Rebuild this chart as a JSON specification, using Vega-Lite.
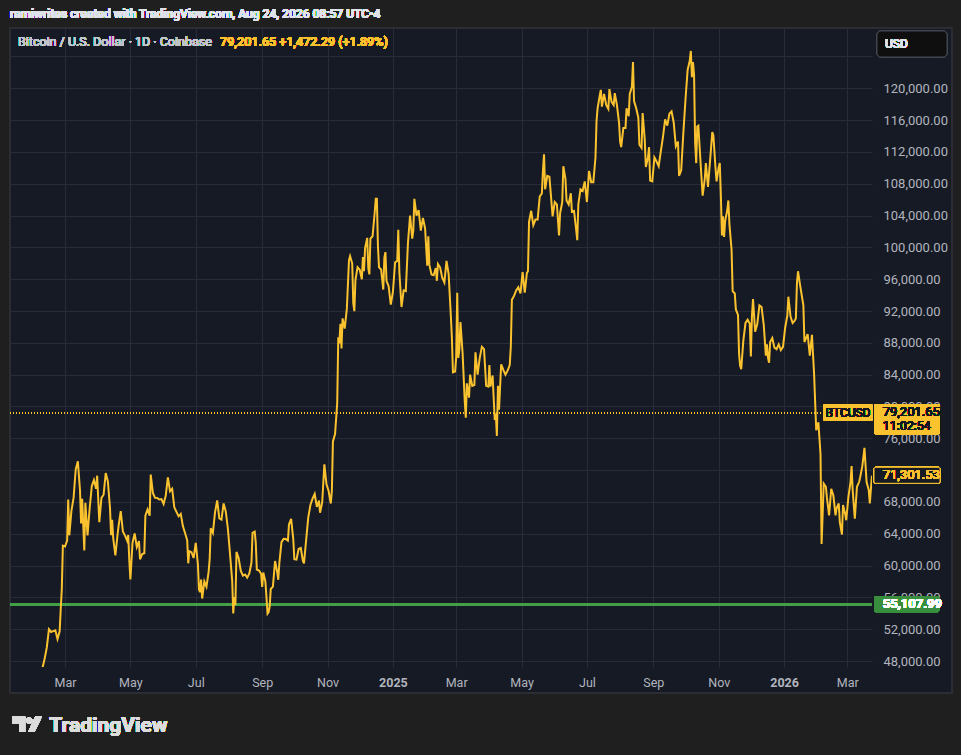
{
  "$schema": "https://vega.github.io/schema/vega-lite/v6.json",
  "width": 862,
  "height": 639,
  "autosize": {"type": "none"},
  "padding": {"left": 10, "top": 28, "right": 89, "bottom": 88},
  "background": "#161a25",
  "data": {
    "values": [
      {"date": "2024-02-09", "close": 47150}, {"date": "2024-02-11", "close": 48300}, {"date": "2024-02-13", "close": 49700},
      {"date": "2024-02-15", "close": 52000}, {"date": "2024-02-17", "close": 51650}, {"date": "2024-02-19", "close": 51750},
      {"date": "2024-02-21", "close": 51850}, {"date": "2024-02-23", "close": 50750}, {"date": "2024-02-25", "close": 51730},
      {"date": "2024-02-26", "close": 54500}, {"date": "2024-02-27", "close": 57050}, {"date": "2024-02-28", "close": 62500},
      {"date": "2024-03-01", "close": 62400}, {"date": "2024-03-03", "close": 63150}, {"date": "2024-03-04", "close": 68300},
      {"date": "2024-03-05", "close": 63800}, {"date": "2024-03-07", "close": 66900}, {"date": "2024-03-09", "close": 68500},
      {"date": "2024-03-11", "close": 72100}, {"date": "2024-03-13", "close": 73100}, {"date": "2024-03-15", "close": 69400},
      {"date": "2024-03-16", "close": 65300}, {"date": "2024-03-17", "close": 68400}, {"date": "2024-03-19", "close": 61900},
      {"date": "2024-03-20", "close": 67900}, {"date": "2024-03-22", "close": 63800}, {"date": "2024-03-24", "close": 67200},
      {"date": "2024-03-26", "close": 69990}, {"date": "2024-03-28", "close": 70750}, {"date": "2024-03-30", "close": 69650},
      {"date": "2024-03-31", "close": 71300}, {"date": "2024-04-02", "close": 65450}, {"date": "2024-04-04", "close": 68500},
      {"date": "2024-04-06", "close": 68900}, {"date": "2024-04-08", "close": 71620}, {"date": "2024-04-10", "close": 70590},
      {"date": "2024-04-12", "close": 67190}, {"date": "2024-04-13", "close": 63820}, {"date": "2024-04-14", "close": 65740},
      {"date": "2024-04-15", "close": 63420}, {"date": "2024-04-17", "close": 61280}, {"date": "2024-04-19", "close": 63840},
      {"date": "2024-04-20", "close": 64990}, {"date": "2024-04-22", "close": 66840}, {"date": "2024-04-24", "close": 64290},
      {"date": "2024-04-26", "close": 63760}, {"date": "2024-04-28", "close": 63120}, {"date": "2024-04-29", "close": 63840},
      {"date": "2024-04-30", "close": 60640}, {"date": "2024-05-01", "close": 58250}, {"date": "2024-05-03", "close": 62890},
      {"date": "2024-05-05", "close": 64030}, {"date": "2024-05-07", "close": 62330}, {"date": "2024-05-09", "close": 63070},
      {"date": "2024-05-10", "close": 60790}, {"date": "2024-05-12", "close": 61450}, {"date": "2024-05-14", "close": 61550},
      {"date": "2024-05-15", "close": 66270}, {"date": "2024-05-17", "close": 67050}, {"date": "2024-05-19", "close": 66280},
      {"date": "2024-05-20", "close": 71440}, {"date": "2024-05-22", "close": 69120}, {"date": "2024-05-24", "close": 68520},
      {"date": "2024-05-26", "close": 68510}, {"date": "2024-05-28", "close": 68300}, {"date": "2024-05-30", "close": 68350},
      {"date": "2024-06-01", "close": 67740}, {"date": "2024-06-03", "close": 68800}, {"date": "2024-06-05", "close": 71080},
      {"date": "2024-06-07", "close": 69340}, {"date": "2024-06-09", "close": 69650}, {"date": "2024-06-11", "close": 67320},
      {"date": "2024-06-13", "close": 66750}, {"date": "2024-06-15", "close": 66190}, {"date": "2024-06-17", "close": 66490},
      {"date": "2024-06-19", "close": 64960}, {"date": "2024-06-21", "close": 64100}, {"date": "2024-06-23", "close": 63200},
      {"date": "2024-06-24", "close": 60280}, {"date": "2024-06-25", "close": 61800}, {"date": "2024-06-27", "close": 61680},
      {"date": "2024-06-29", "close": 60950}, {"date": "2024-07-01", "close": 62850}, {"date": "2024-07-03", "close": 60200},
      {"date": "2024-07-04", "close": 57020}, {"date": "2024-07-05", "close": 56660}, {"date": "2024-07-06", "close": 58230},
      {"date": "2024-07-07", "close": 55850}, {"date": "2024-07-09", "close": 58000}, {"date": "2024-07-11", "close": 57340},
      {"date": "2024-07-13", "close": 59200}, {"date": "2024-07-14", "close": 60800}, {"date": "2024-07-15", "close": 64700},
      {"date": "2024-07-17", "close": 64100}, {"date": "2024-07-19", "close": 66700}, {"date": "2024-07-21", "close": 68180},
      {"date": "2024-07-23", "close": 65930}, {"date": "2024-07-25", "close": 65780}, {"date": "2024-07-27", "close": 67810},
      {"date": "2024-07-29", "close": 66800}, {"date": "2024-07-31", "close": 64610}, {"date": "2024-08-02", "close": 61420},
      {"date": "2024-08-04", "close": 58110}, {"date": "2024-08-05", "close": 53990}, {"date": "2024-08-06", "close": 56040},
      {"date": "2024-08-07", "close": 55030}, {"date": "2024-08-08", "close": 61710}, {"date": "2024-08-10", "close": 60940},
      {"date": "2024-08-12", "close": 59350}, {"date": "2024-08-14", "close": 58740}, {"date": "2024-08-16", "close": 58870},
      {"date": "2024-08-18", "close": 58480}, {"date": "2024-08-20", "close": 59010}, {"date": "2024-08-22", "close": 60380},
      {"date": "2024-08-23", "close": 64100}, {"date": "2024-08-25", "close": 64260}, {"date": "2024-08-26", "close": 62880},
      {"date": "2024-08-27", "close": 59500}, {"date": "2024-08-29", "close": 59380}, {"date": "2024-08-31", "close": 58970},
      {"date": "2024-09-01", "close": 57320}, {"date": "2024-09-02", "close": 59130}, {"date": "2024-09-04", "close": 57970},
      {"date": "2024-09-06", "close": 53960}, {"date": "2024-09-07", "close": 54160}, {"date": "2024-09-08", "close": 54870},
      {"date": "2024-09-09", "close": 57050}, {"date": "2024-09-11", "close": 57350}, {"date": "2024-09-13", "close": 60570},
      {"date": "2024-09-15", "close": 59190}, {"date": "2024-09-16", "close": 58210}, {"date": "2024-09-17", "close": 60310},
      {"date": "2024-09-19", "close": 62950}, {"date": "2024-09-21", "close": 63350}, {"date": "2024-09-23", "close": 63330},
      {"date": "2024-09-25", "close": 63140}, {"date": "2024-09-26", "close": 65180}, {"date": "2024-09-28", "close": 65880},
      {"date": "2024-09-30", "close": 63330}, {"date": "2024-10-01", "close": 60800}, {"date": "2024-10-03", "close": 60750},
      {"date": "2024-10-05", "close": 62090}, {"date": "2024-10-07", "close": 62220}, {"date": "2024-10-09", "close": 60580},
      {"date": "2024-10-10", "close": 60270}, {"date": "2024-10-12", "close": 63190}, {"date": "2024-10-14", "close": 66050},
      {"date": "2024-10-16", "close": 67610}, {"date": "2024-10-18", "close": 68410}, {"date": "2024-10-20", "close": 69000},
      {"date": "2024-10-22", "close": 67380}, {"date": "2024-10-24", "close": 68170}, {"date": "2024-10-25", "close": 66640},
      {"date": "2024-10-27", "close": 67930}, {"date": "2024-10-29", "close": 72720}, {"date": "2024-10-31", "close": 70220},
      {"date": "2024-11-02", "close": 69370}, {"date": "2024-11-04", "close": 67800}, {"date": "2024-11-05", "close": 69370},
      {"date": "2024-11-06", "close": 75600}, {"date": "2024-11-08", "close": 76530}, {"date": "2024-11-10", "close": 80420},
      {"date": "2024-11-11", "close": 88700}, {"date": "2024-11-12", "close": 87950}, {"date": "2024-11-13", "close": 90400},
      {"date": "2024-11-14", "close": 87300}, {"date": "2024-11-15", "close": 91080}, {"date": "2024-11-17", "close": 89800},
      {"date": "2024-11-19", "close": 92300}, {"date": "2024-11-21", "close": 98400}, {"date": "2024-11-22", "close": 98900},
      {"date": "2024-11-24", "close": 98000}, {"date": "2024-11-25", "close": 93000}, {"date": "2024-11-26", "close": 91980},
      {"date": "2024-11-27", "close": 95900}, {"date": "2024-11-29", "close": 97500}, {"date": "2024-12-01", "close": 97200},
      {"date": "2024-12-03", "close": 96000}, {"date": "2024-12-04", "close": 98800}, {"date": "2024-12-05", "close": 97000},
      {"date": "2024-12-06", "close": 99900}, {"date": "2024-12-08", "close": 101200}, {"date": "2024-12-09", "close": 97400},
      {"date": "2024-12-10", "close": 96600}, {"date": "2024-12-11", "close": 101100}, {"date": "2024-12-13", "close": 101400},
      {"date": "2024-12-15", "close": 104400}, {"date": "2024-12-16", "close": 106100}, {"date": "2024-12-17", "close": 106100},
      {"date": "2024-12-18", "close": 100200}, {"date": "2024-12-19", "close": 97500}, {"date": "2024-12-21", "close": 97200},
      {"date": "2024-12-23", "close": 94700}, {"date": "2024-12-24", "close": 98700}, {"date": "2024-12-25", "close": 99400},
      {"date": "2024-12-26", "close": 95800}, {"date": "2024-12-28", "close": 95100}, {"date": "2024-12-30", "close": 92800},
      {"date": "2025-01-01", "close": 94400}, {"date": "2025-01-03", "close": 98100}, {"date": "2025-01-05", "close": 98300},
      {"date": "2025-01-06", "close": 102200}, {"date": "2025-01-07", "close": 96900}, {"date": "2025-01-09", "close": 92500},
      {"date": "2025-01-11", "close": 94600}, {"date": "2025-01-13", "close": 94500}, {"date": "2025-01-15", "close": 100500},
      {"date": "2025-01-17", "close": 104000}, {"date": "2025-01-19", "close": 101100}, {"date": "2025-01-20", "close": 102100},
      {"date": "2025-01-21", "close": 106100}, {"date": "2025-01-23", "close": 104000}, {"date": "2025-01-25", "close": 104700},
      {"date": "2025-01-27", "close": 102100}, {"date": "2025-01-29", "close": 103700}, {"date": "2025-01-31", "close": 102400},
      {"date": "2025-02-02", "close": 97700}, {"date": "2025-02-03", "close": 101400}, {"date": "2025-02-04", "close": 97800},
      {"date": "2025-02-06", "close": 96600}, {"date": "2025-02-08", "close": 96500}, {"date": "2025-02-10", "close": 97400},
      {"date": "2025-02-11", "close": 95800}, {"date": "2025-02-12", "close": 97900}, {"date": "2025-02-14", "close": 97500},
      {"date": "2025-02-16", "close": 96200}, {"date": "2025-02-18", "close": 95600}, {"date": "2025-02-20", "close": 98300},
      {"date": "2025-02-22", "close": 96600}, {"date": "2025-02-24", "close": 91500}, {"date": "2025-02-25", "close": 88700},
      {"date": "2025-02-26", "close": 84300}, {"date": "2025-02-28", "close": 84400}, {"date": "2025-03-01", "close": 86100},
      {"date": "2025-03-02", "close": 94300}, {"date": "2025-03-03", "close": 86100}, {"date": "2025-03-04", "close": 87200},
      {"date": "2025-03-05", "close": 90600}, {"date": "2025-03-07", "close": 86700}, {"date": "2025-03-09", "close": 80700},
      {"date": "2025-03-10", "close": 78600}, {"date": "2025-03-11", "close": 82900}, {"date": "2025-03-13", "close": 81100},
      {"date": "2025-03-14", "close": 84000}, {"date": "2025-03-16", "close": 82600}, {"date": "2025-03-18", "close": 82700},
      {"date": "2025-03-19", "close": 86800}, {"date": "2025-03-21", "close": 84000}, {"date": "2025-03-23", "close": 86100},
      {"date": "2025-03-25", "close": 87500}, {"date": "2025-03-27", "close": 87200}, {"date": "2025-03-29", "close": 82600},
      {"date": "2025-03-31", "close": 82500}, {"date": "2025-04-01", "close": 85200}, {"date": "2025-04-02", "close": 82500},
      {"date": "2025-04-04", "close": 83900}, {"date": "2025-04-06", "close": 78300}, {"date": "2025-04-07", "close": 79100},
      {"date": "2025-04-08", "close": 76300}, {"date": "2025-04-09", "close": 82600}, {"date": "2025-04-10", "close": 79600},
      {"date": "2025-04-12", "close": 85300}, {"date": "2025-04-14", "close": 84600}, {"date": "2025-04-16", "close": 84000},
      {"date": "2025-04-18", "close": 84500}, {"date": "2025-04-20", "close": 85200}, {"date": "2025-04-21", "close": 87500},
      {"date": "2025-04-22", "close": 93400}, {"date": "2025-04-24", "close": 93900}, {"date": "2025-04-26", "close": 94600},
      {"date": "2025-04-28", "close": 95000}, {"date": "2025-04-30", "close": 94200}, {"date": "2025-05-02", "close": 96900},
      {"date": "2025-05-04", "close": 94300}, {"date": "2025-05-06", "close": 96800}, {"date": "2025-05-07", "close": 97000},
      {"date": "2025-05-08", "close": 103200}, {"date": "2025-05-10", "close": 104600}, {"date": "2025-05-12", "close": 102800},
      {"date": "2025-05-14", "close": 103500}, {"date": "2025-05-16", "close": 103500}, {"date": "2025-05-18", "close": 106400},
      {"date": "2025-05-20", "close": 106800}, {"date": "2025-05-21", "close": 109700}, {"date": "2025-05-22", "close": 111700},
      {"date": "2025-05-23", "close": 107300}, {"date": "2025-05-25", "close": 109000}, {"date": "2025-05-27", "close": 108900},
      {"date": "2025-05-29", "close": 105600}, {"date": "2025-05-30", "close": 103900}, {"date": "2025-06-01", "close": 105700},
      {"date": "2025-06-03", "close": 105400}, {"date": "2025-06-05", "close": 101500}, {"date": "2025-06-06", "close": 104300},
      {"date": "2025-06-08", "close": 105700}, {"date": "2025-06-09", "close": 110200}, {"date": "2025-06-11", "close": 108600},
      {"date": "2025-06-12", "close": 105900}, {"date": "2025-06-14", "close": 105400}, {"date": "2025-06-16", "close": 106800},
      {"date": "2025-06-17", "close": 104500}, {"date": "2025-06-19", "close": 104600}, {"date": "2025-06-21", "close": 102200},
      {"date": "2025-06-22", "close": 100900}, {"date": "2025-06-23", "close": 105400}, {"date": "2025-06-25", "close": 107300},
      {"date": "2025-06-27", "close": 107100}, {"date": "2025-06-29", "close": 108300}, {"date": "2025-07-01", "close": 105700},
      {"date": "2025-07-03", "close": 109600}, {"date": "2025-07-05", "close": 108200}, {"date": "2025-07-07", "close": 108200},
      {"date": "2025-07-09", "close": 111300}, {"date": "2025-07-10", "close": 115900}, {"date": "2025-07-11", "close": 117500},
      {"date": "2025-07-13", "close": 119100}, {"date": "2025-07-14", "close": 119800}, {"date": "2025-07-15", "close": 117700},
      {"date": "2025-07-17", "close": 119300}, {"date": "2025-07-19", "close": 117900}, {"date": "2025-07-21", "close": 117400},
      {"date": "2025-07-22", "close": 119900}, {"date": "2025-07-24", "close": 118300}, {"date": "2025-07-26", "close": 117900},
      {"date": "2025-07-27", "close": 119400}, {"date": "2025-07-29", "close": 117900}, {"date": "2025-07-31", "close": 115700},
      {"date": "2025-08-01", "close": 113300}, {"date": "2025-08-02", "close": 112600}, {"date": "2025-08-04", "close": 115000},
      {"date": "2025-08-06", "close": 115000}, {"date": "2025-08-07", "close": 117500}, {"date": "2025-08-09", "close": 116500},
      {"date": "2025-08-10", "close": 119300}, {"date": "2025-08-12", "close": 120200}, {"date": "2025-08-13", "close": 123300},
      {"date": "2025-08-14", "close": 118400}, {"date": "2025-08-16", "close": 117500}, {"date": "2025-08-18", "close": 116300},
      {"date": "2025-08-19", "close": 112900}, {"date": "2025-08-21", "close": 112500}, {"date": "2025-08-22", "close": 116900},
      {"date": "2025-08-24", "close": 113500}, {"date": "2025-08-25", "close": 110100}, {"date": "2025-08-27", "close": 111300},
      {"date": "2025-08-28", "close": 112600}, {"date": "2025-08-29", "close": 108400}, {"date": "2025-08-31", "close": 108300},
      {"date": "2025-09-02", "close": 111300}, {"date": "2025-09-04", "close": 110800}, {"date": "2025-09-06", "close": 110200},
      {"date": "2025-09-08", "close": 112100}, {"date": "2025-09-10", "close": 113900}, {"date": "2025-09-12", "close": 116100},
      {"date": "2025-09-14", "close": 115300}, {"date": "2025-09-16", "close": 116800}, {"date": "2025-09-18", "close": 117100},
      {"date": "2025-09-20", "close": 115700}, {"date": "2025-09-22", "close": 112700}, {"date": "2025-09-24", "close": 113300},
      {"date": "2025-09-25", "close": 109000}, {"date": "2025-09-27", "close": 109700}, {"date": "2025-09-29", "close": 114400},
      {"date": "2025-10-01", "close": 118600}, {"date": "2025-10-03", "close": 122300}, {"date": "2025-10-05", "close": 123500},
      {"date": "2025-10-06", "close": 124700}, {"date": "2025-10-07", "close": 121400}, {"date": "2025-10-08", "close": 123300},
      {"date": "2025-10-09", "close": 121700}, {"date": "2025-10-10", "close": 113200}, {"date": "2025-10-11", "close": 110600},
      {"date": "2025-10-12", "close": 115200}, {"date": "2025-10-13", "close": 115300}, {"date": "2025-10-15", "close": 110800},
      {"date": "2025-10-17", "close": 106500}, {"date": "2025-10-19", "close": 108600}, {"date": "2025-10-20", "close": 110600},
      {"date": "2025-10-22", "close": 107600}, {"date": "2025-10-24", "close": 111000}, {"date": "2025-10-26", "close": 114500},
      {"date": "2025-10-27", "close": 114100}, {"date": "2025-10-29", "close": 110000}, {"date": "2025-10-30", "close": 108300},
      {"date": "2025-11-01", "close": 110100}, {"date": "2025-11-02", "close": 110600}, {"date": "2025-11-03", "close": 106500},
      {"date": "2025-11-04", "close": 101500}, {"date": "2025-11-05", "close": 103900}, {"date": "2025-11-06", "close": 101300},
      {"date": "2025-11-07", "close": 103300}, {"date": "2025-11-09", "close": 104700}, {"date": "2025-11-10", "close": 105900},
      {"date": "2025-11-11", "close": 102900}, {"date": "2025-11-13", "close": 99700}, {"date": "2025-11-14", "close": 94500},
      {"date": "2025-11-16", "close": 94200}, {"date": "2025-11-17", "close": 92200}, {"date": "2025-11-19", "close": 91500},
      {"date": "2025-11-20", "close": 86600}, {"date": "2025-11-21", "close": 85100}, {"date": "2025-11-22", "close": 84700},
      {"date": "2025-11-24", "close": 88300}, {"date": "2025-11-26", "close": 90500}, {"date": "2025-11-28", "close": 90900},
      {"date": "2025-11-30", "close": 90400}, {"date": "2025-12-01", "close": 86300}, {"date": "2025-12-02", "close": 91300},
      {"date": "2025-12-03", "close": 93500}, {"date": "2025-12-05", "close": 89400}, {"date": "2025-12-07", "close": 90400},
      {"date": "2025-12-09", "close": 92700}, {"date": "2025-12-11", "close": 92500}, {"date": "2025-12-13", "close": 90300},
      {"date": "2025-12-15", "close": 86400}, {"date": "2025-12-16", "close": 87800}, {"date": "2025-12-17", "close": 86100},
      {"date": "2025-12-18", "close": 85500}, {"date": "2025-12-19", "close": 88100}, {"date": "2025-12-21", "close": 88600},
      {"date": "2025-12-23", "close": 87400}, {"date": "2025-12-25", "close": 87200}, {"date": "2025-12-27", "close": 87800},
      {"date": "2025-12-29", "close": 87100}, {"date": "2025-12-31", "close": 87500}, {"date": "2026-01-02", "close": 89900},
      {"date": "2026-01-04", "close": 91400}, {"date": "2026-01-05", "close": 93800}, {"date": "2026-01-07", "close": 91300},
      {"date": "2026-01-09", "close": 90500}, {"date": "2026-01-11", "close": 90800}, {"date": "2026-01-12", "close": 91100},
      {"date": "2026-01-13", "close": 95500}, {"date": "2026-01-14", "close": 97000}, {"date": "2026-01-16", "close": 95200},
      {"date": "2026-01-19", "close": 92700}, {"date": "2026-01-20", "close": 88100}, {"date": "2026-01-23", "close": 89100},
      {"date": "2026-01-25", "close": 86400}, {"date": "2026-01-27", "close": 89000}, {"date": "2026-01-29", "close": 84100},
      {"date": "2026-01-31", "close": 77000}, {"date": "2026-02-02", "close": 78000}, {"date": "2026-02-04", "close": 74000},
      {"date": "2026-02-05", "close": 62700}, {"date": "2026-02-07", "close": 70300}, {"date": "2026-02-09", "close": 69900},
      {"date": "2026-02-10", "close": 68500}, {"date": "2026-02-12", "close": 66300}, {"date": "2026-02-14", "close": 69650},
      {"date": "2026-02-16", "close": 68800}, {"date": "2026-02-18", "close": 66300}, {"date": "2026-02-19", "close": 67200},
      {"date": "2026-02-21", "close": 67800}, {"date": "2026-02-22", "close": 65500}, {"date": "2026-02-24", "close": 63900},
      {"date": "2026-02-25", "close": 67600}, {"date": "2026-02-27", "close": 66500}, {"date": "2026-02-28", "close": 65700},
      {"date": "2026-03-02", "close": 68600}, {"date": "2026-03-04", "close": 70500}, {"date": "2026-03-05", "close": 72500},
      {"date": "2026-03-06", "close": 69500}, {"date": "2026-03-08", "close": 65900}, {"date": "2026-03-10", "close": 69900},
      {"date": "2026-03-12", "close": 70500}, {"date": "2026-03-13", "close": 71100}, {"date": "2026-03-15", "close": 72500},
      {"date": "2026-03-17", "close": 74800}, {"date": "2026-03-19", "close": 70500}, {"date": "2026-03-21", "close": 69500},
      {"date": "2026-03-22", "close": 67800}, {"date": "2026-03-24", "close": 71300}
    ]
  },
  "layer": [
    {
      "mark": {"type": "rect", "color": "#1f1f1f"},
      "encoding": {
        "x": {"datum": {"year": 2023, "month": 10, "date": 1, "utc": true}, "type": "temporal"},
        "x2": {"datum": {"year": 2027, "month": 3, "date": 1, "utc": true}},
        "y": {"datum": 127582, "type": "quantitative"},
        "y2": {"datum": 145000}
      }
    },
    {
      "mark": {"type": "rect", "color": "#1f1f1f"},
      "encoding": {
        "x": {"datum": {"year": 2023, "month": 10, "date": 1, "utc": true}, "type": "temporal"},
        "x2": {"datum": {"year": 2027, "month": 3, "date": 1, "utc": true}},
        "y": {"datum": 30000, "type": "quantitative"},
        "y2": {"datum": 43977}
      }
    },
    {
      "mark": {"type": "rect", "color": "#1f1f1f"},
      "encoding": {
        "x": {"datum": {"year": 2023, "month": 10, "date": 1, "utc": true}, "type": "temporal"},
        "x2": {"datum": {"year": 2024, "month": 1, "date": 9, "hours": 16, "utc": true}},
        "y": {"datum": 43977, "type": "quantitative"},
        "y2": {"datum": 127582}
      }
    },
    {
      "mark": {"type": "rect", "color": "#1f1f1f"},
      "encoding": {
        "x": {"datum": {"year": 2026, "month": 6, "date": 6, "hours": 17, "utc": true}, "type": "temporal"},
        "x2": {"datum": {"year": 2027, "month": 3, "date": 1, "utc": true}},
        "y": {"datum": 43977, "type": "quantitative"},
        "y2": {"datum": 127582}
      }
    },
    {
      "mark": {"type": "rect", "filled": false, "stroke": "#2c2e35", "strokeWidth": 1.5},
      "encoding": {
        "x": {"datum": {"year": 2024, "month": 1, "date": 9, "hours": 16, "utc": true}, "type": "temporal"},
        "x2": {"datum": {"year": 2026, "month": 6, "date": 6, "hours": 17, "utc": true}},
        "y": {"datum": 43977, "type": "quantitative"},
        "y2": {"datum": 127582}
      }
    },
    {
      "mark": {"type": "text", "text": "ramiwrites created with TradingView.com, Aug 24, 2026 08:57 UTC-4", "align": "left", "baseline": "middle", "font": "Roboto", "fontSize": 12, "fontWeight": 600, "color": "#e0e3eb"},
      "encoding": {
        "x": {"datum": {"year": 2024, "month": 1, "date": 9, "hours": 16, "utc": true}, "type": "temporal"},
        "y": {"datum": 129342, "type": "quantitative"}
      }
    },
    {
      "mark": {"type": "rect", "fill": "#0f0f10", "stroke": "#434651", "strokeWidth": 1, "cornerRadius": 4},
      "encoding": {
        "x": {"datum": {"year": 2026, "month": 3, "date": 28, "hours": 17, "utc": true}, "type": "temporal"},
        "x2": {"datum": {"year": 2026, "month": 6, "date": 2, "hours": 1, "utc": true}},
        "y": {"datum": 127206, "type": "quantitative"},
        "y2": {"datum": 123937}
      }
    },
    {
      "mark": {"type": "text", "text": "USD", "align": "left", "baseline": "middle", "font": "Roboto", "fontSize": 12, "color": "#e0e3eb"},
      "encoding": {
        "x": {"datum": {"year": 2026, "month": 4, "date": 5, "hours": 5, "utc": true}, "type": "temporal"},
        "y": {"datum": 125570, "type": "quantitative"}
      }
    },
    {
      "mark": {"type": "rule", "color": "#43a047", "strokeWidth": 2},
      "encoding": {"y": {"datum": 55107.99, "type": "quantitative"}}
    },
    {
      "mark": {"type": "rule", "color": "#f9c22e", "strokeWidth": 1, "strokeDash": [1, 2]},
      "encoding": {"y": {"datum": 79201.65, "type": "quantitative"}}
    },
    {
      "mark": {"type": "line", "color": "#f9c22e", "strokeWidth": 2, "clip": true},
      "encoding": {
        "x": {
          "field": "date",
          "type": "temporal",
          "scale": {
            "type": "utc",
            "domain": [
              {"year": 2024, "month": 1, "date": 9, "hours": 16, "utc": true},
              {"year": 2026, "month": 3, "date": 24, "hours": 1, "utc": true}
            ]
          },
          "axis": {
            "title": null,
            "grid": true,
            "tickCount": 40,
            "values": [
              {"year": 2024, "month": 3, "date": 1, "utc": true},
              {"year": 2024, "month": 5, "date": 1, "utc": true},
              {"year": 2024, "month": 7, "date": 1, "utc": true},
              {"year": 2024, "month": 9, "date": 1, "utc": true},
              {"year": 2024, "month": 11, "date": 1, "utc": true},
              {"year": 2025, "month": 1, "date": 1, "utc": true},
              {"year": 2025, "month": 3, "date": 1, "utc": true},
              {"year": 2025, "month": 5, "date": 1, "utc": true},
              {"year": 2025, "month": 7, "date": 1, "utc": true},
              {"year": 2025, "month": 9, "date": 1, "utc": true},
              {"year": 2025, "month": 11, "date": 1, "utc": true},
              {"year": 2026, "month": 1, "date": 1, "utc": true},
              {"year": 2026, "month": 3, "date": 1, "utc": true}
            ],
            "labelExpr": "utcmonth(datum.value) == 0 ? utcFormat(datum.value, '%Y') : utcFormat(datum.value, '%b')",
            "labelFontWeight": {"condition": {"test": "utcmonth(datum.value) == 0", "value": "bold"}, "value": "normal"},
            "gridColor": "#282c38",
            "labelOverlap": false
          }
        },
        "y": {
          "field": "close",
          "type": "quantitative",
          "scale": {"domain": [47246, 127582], "nice": false, "zero": false},
          "axis": {
            "title": null,
            "orient": "right",
            "grid": true,
            "tickCount": 40,
            "values": [48000, 52000, 56000, 60000, 64000, 68000, 72000, 76000, 80000, 84000, 88000, 92000, 96000, 100000, 104000, 108000, 112000, 116000, 120000, 124000],
            "format": ",.2f",
            "labelExpr": "datum.value > 122000 ? '' : format(datum.value, ',.2f')",
            "gridColor": "#282c38",
            "labelOverlap": false
          }
        }
      }
    },
    {
      "mark": {"type": "rect", "color": "#f9c22e", "cornerRadius": 2},
      "encoding": {
        "x": {"datum": {"year": 2026, "month": 2, "date": 6, "hours": 14, "utc": true}, "type": "temporal"},
        "x2": {"datum": {"year": 2026, "month": 3, "date": 24, "hours": 17, "utc": true}},
        "y": {"datum": 80273, "type": "quantitative"},
        "y2": {"datum": 78211}
      }
    },
    {
      "mark": {"type": "text", "text": "BTCUSD", "align": "center", "baseline": "middle", "font": "Roboto", "fontSize": 12, "color": "#131722"},
      "encoding": {
        "x": {"datum": {"year": 2026, "month": 3, "date": 1, "hours": 16, "utc": true}, "type": "temporal"},
        "y": {"datum": 79242, "type": "quantitative"}
      }
    },
    {
      "mark": {"type": "rect", "color": "#f9c22e", "cornerRadius": 2},
      "encoding": {
        "x": {"datum": {"year": 2026, "month": 3, "date": 25, "hours": 22, "utc": true}, "type": "temporal"},
        "x2": {"datum": {"year": 2026, "month": 5, "date": 26, "hours": 12, "utc": true}},
        "y": {"datum": 80311, "type": "quantitative"},
        "y2": {"datum": 76501}
      }
    },
    {
      "mark": {"type": "text", "text": "79,201.65", "align": "left", "baseline": "middle", "font": "Roboto", "fontSize": 13, "color": "#131722"},
      "encoding": {
        "x": {"datum": {"year": 2026, "month": 4, "date": 3, "utc": true}, "type": "temporal"},
        "y": {"datum": 79268, "type": "quantitative"}
      }
    },
    {
      "mark": {"type": "text", "text": "11:02:54", "align": "left", "baseline": "middle", "font": "Roboto", "fontSize": 12.5, "color": "#131722"},
      "encoding": {
        "x": {"datum": {"year": 2026, "month": 4, "date": 3, "utc": true}, "type": "temporal"},
        "y": {"datum": 77582, "type": "quantitative"}
      }
    },
    {
      "mark": {"type": "rect", "fill": "#161a25", "stroke": "#f9c22e", "strokeWidth": 1, "cornerRadius": 2},
      "encoding": {
        "x": {"datum": {"year": 2026, "month": 3, "date": 25, "hours": 22, "utc": true}, "type": "temporal"},
        "x2": {"datum": {"year": 2026, "month": 5, "date": 26, "hours": 12, "utc": true}},
        "y": {"datum": 72352, "type": "quantitative"},
        "y2": {"datum": 70341}
      }
    },
    {
      "mark": {"type": "text", "text": "71,301.53", "align": "left", "baseline": "middle", "font": "Roboto", "fontSize": 13, "color": "#f9c22e"},
      "encoding": {
        "x": {"datum": {"year": 2026, "month": 4, "date": 3, "utc": true}, "type": "temporal"},
        "y": {"datum": 71384, "type": "quantitative"}
      }
    },
    {
      "mark": {"type": "rect", "color": "#388e3c", "cornerRadius": 2},
      "encoding": {
        "x": {"datum": {"year": 2026, "month": 3, "date": 25, "hours": 22, "utc": true}, "type": "temporal"},
        "x2": {"datum": {"year": 2026, "month": 5, "date": 25, "hours": 20, "utc": true}},
        "y": {"datum": 56172, "type": "quantitative"},
        "y2": {"datum": 54123}
      }
    },
    {
      "mark": {"type": "text", "text": "55,107.99", "align": "left", "baseline": "middle", "font": "Roboto", "fontSize": 13, "fontWeight": "bold", "color": "#ffffff"},
      "encoding": {
        "x": {"datum": {"year": 2026, "month": 4, "date": 3, "utc": true}, "type": "temporal"},
        "y": {"datum": 55150, "type": "quantitative"}
      }
    },
    {
      "mark": {"type": "text", "text": "Bitcoin / U.S. Dollar · 1D · Coinbase", "align": "left", "baseline": "middle", "font": "Roboto", "fontSize": 12.5, "color": "#c3c6ce"},
      "encoding": {
        "x": {"datum": {"year": 2024, "month": 1, "date": 17, "hours": 3, "utc": true}, "type": "temporal"},
        "y": {"datum": 125784, "type": "quantitative"}
      }
    },
    {
      "mark": {"type": "text", "text": "79,201.65  +1,472.29 (+1.89%)", "align": "left", "baseline": "middle", "font": "Roboto", "fontSize": 12.5, "fontWeight": 500, "color": "#f9c22e"},
      "encoding": {
        "x": {"datum": {"year": 2024, "month": 7, "date": 23, "hours": 17, "utc": true}, "type": "temporal"},
        "y": {"datum": 125784, "type": "quantitative"}
      }
    },
    {
      "mark": {
        "type": "point",
        "shape": "M-0.98,-0.5 L-0.13,-0.5 L-0.13,0.5 L-0.53,0.5 L-0.53,-0.07 L-0.98,-0.07 Z M0.36,-0.26 A0.21,0.21 0 1,1 -0.06,-0.26 A0.21,0.21 0 1,1 0.36,-0.26 Z M0.55,-0.5 L0.98,-0.5 L0.5,0.5 L0.08,0.5 Z",
        "size": 900,
        "filled": true,
        "opacity": 1,
        "strokeWidth": 0,
        "color": "#dcdcdc"
      },
      "encoding": {
        "x": {"datum": {"year": 2024, "month": 1, "date": 25, "hours": 13, "utc": true}, "type": "temporal"},
        "y": {"datum": 40054, "type": "quantitative"}
      }
    },
    {
      "mark": {"type": "text", "text": "TradingView", "align": "left", "baseline": "alphabetic", "font": "Roboto", "fontSize": 21, "fontWeight": "bold", "color": "#dcdcdc"},
      "encoding": {
        "x": {"datum": {"year": 2024, "month": 2, "date": 15, "hours": 8, "utc": true}, "type": "temporal"},
        "y": {"datum": 39111, "type": "quantitative"}
      }
    }
  ],
  "config": {
    "view": {"stroke": null},
    "axis": {
      "labelFont": "Roboto",
      "labelColor": "#b2b5be",
      "labelOverlap": false,
      "labelFlush": false,
      "ticks": false,
      "domain": false,
      "grid": true,
      "gridColor": "#282c38",
      "gridWidth": 1,
      "gridOpacity": 1
    },
    "axisX": {"labelFontSize": 12.5, "labelPadding": 9},
    "axisY": {"labelFontSize": 13, "labelPadding": 11, "labelAlign": "left", "labelBaseline": "middle"}
  }
}
